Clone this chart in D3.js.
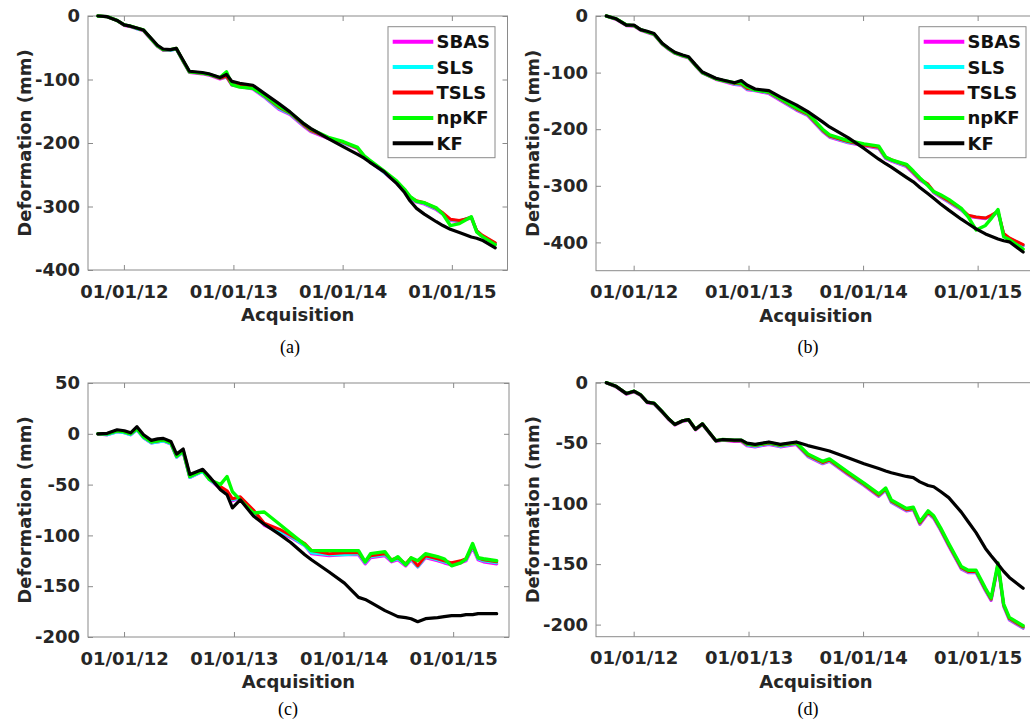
<!DOCTYPE html>
<html><head><meta charset="utf-8">
<script src="https://cdn.jsdelivr.net/npm/d3@7/dist/d3.min.js"></script>
<style>
html,body{margin:0;padding:0;background:#fff;}
svg{display:block;}
</style></head>
<body>
<svg id="chart" width="1030" height="723"></svg>
<script>
// ---------------- DATA ----------------
const dates = ["2011-10-06","2011-11-06","2011-12-09","2012-01-02","2012-01-23","2012-02-13","2012-03-06","2012-04-01","2012-04-22","2012-05-11","2012-06-05","2012-06-24","2012-07-16","2012-08-07","2012-09-19","2012-10-11","2012-11-17","2012-12-09","2012-12-27","2013-01-22","2013-03-07","2013-04-12","2013-06-02","2013-07-09","2013-08-25","2013-09-16","2013-11-14","2014-01-04","2014-02-20","2014-03-14","2014-04-01","2014-05-19","2014-06-10","2014-07-01","2014-07-27","2014-08-14","2014-09-05","2014-10-01","2014-11-10","2014-12-02","2014-12-27","2015-01-26","2015-02-13","2015-03-07","2015-03-25","2015-04-12","2015-05-26"];

const seriesNames = ["SBAS","SLS","TSLS","npKF","KF"];
const xTickDates = ["2012-01-01","2013-01-01","2014-01-01","2015-01-01"];
const xTickLabels = ["01/01/12","01/01/13","01/01/14","01/01/15"];
const panelLabels = ["(a)","(b)","(c)","(d)"];
const yTicksA = [0,-100,-200,-300,-400];
const yTicksB = [0,-100,-200,-300,-400];
const yTicksC = [50,0,-50,-100,-150,-200];
const yTicksD = [0,-50,-100,-150,-200];

// Panel (a)
const aSBAS = [0,-1,-7,-15,-17,-20,-23,-37,-48,-54,-54,-52,-71,-89,-91,-93,-99,-96,-109,-111,-115,-127,-147,-155,-174,-182,-193,-200,-209,-222,-229,-246,-255,-263,-276,-287,-293,-296,-305,-312,-322,-324,-321,-318,-339,-347,-359];
const aSLS  = [0,-1,-7,-14,-16,-20,-22,-36,-47,-53,-54,-52,-70,-88,-90,-92,-98,-96,-108,-111,-114,-126,-146,-154,-173,-181,-192,-200,-208,-221,-228,-246,-254,-262,-275,-286,-292,-295,-304,-311,-321,-323,-320,-317,-338,-346,-358];
const aTSLS = [0,-1,-7,-14,-16,-19,-22,-36,-47,-53,-53,-51,-70,-88,-90,-92,-98,-95,-108,-110,-113,-125,-144,-153,-172,-180,-192,-199,-208,-221,-228,-245,-253,-261,-274,-285,-291,-294,-303,-310,-320,-322,-320,-317,-338,-345,-357];
const aNpKF = [0,-1,-7,-14,-16,-19,-22,-36,-47,-53,-53,-51,-70,-88,-90,-92,-97,-88,-108,-112,-114,-124,-142,-152,-170,-178,-191,-198,-207,-220,-227,-244,-252,-260,-273,-284,-292,-294,-302,-312,-330,-327,-322,-316,-340,-347,-360];
const aKF   = [0,-1,-7,-14,-16,-19,-22,-35,-46,-52,-53,-51,-69,-87,-89,-91,-97,-92,-103,-106,-109,-121,-138,-151,-170,-177,-193,-206,-218,-224,-230,-245,-255,-264,-278,-291,-303,-312,-324,-330,-336,-341,-344,-348,-350,-353,-365];

// Panel (b)
const bSBAS = [0,-6,-17,-18,-25,-29,-33,-50,-59,-66,-71,-74,-88,-101,-112,-115,-121,-122,-130,-132,-137,-149,-166,-176,-204,-214,-224,-229,-234,-252,-256,-266,-278,-290,-299,-312,-320,-329,-343,-354,-356,-358,-354,-347,-386,-394,-406];
const bSLS  = [0,-5,-16,-17,-24,-28,-32,-49,-58,-65,-70,-73,-87,-100,-111,-114,-120,-121,-129,-131,-136,-148,-165,-175,-203,-213,-223,-228,-233,-251,-255,-265,-277,-289,-298,-311,-319,-328,-342,-353,-355,-357,-353,-346,-385,-393,-405];
const bTSLS = [0,-5,-16,-17,-24,-28,-32,-49,-58,-65,-70,-73,-87,-100,-111,-114,-119,-120,-128,-130,-135,-147,-164,-174,-202,-212,-222,-228,-232,-250,-254,-264,-276,-288,-297,-310,-318,-327,-341,-352,-355,-357,-352,-345,-384,-392,-404];
const bNpKF = [0,-5,-16,-17,-24,-28,-32,-49,-58,-65,-70,-73,-87,-100,-111,-114,-118,-118,-125,-131,-134,-146,-162,-172,-200,-210,-220,-226,-230,-249,-254,-262,-274,-286,-300,-310,-316,-324,-340,-355,-378,-370,-358,-342,-390,-395,-412];
const bKF   = [0,-5,-16,-16,-24,-27,-31,-48,-57,-64,-69,-72,-86,-99,-110,-113,-118,-114,-122,-129,-132,-143,-157,-169,-187,-196,-215,-234,-253,-261,-267,-285,-293,-303,-314,-322,-332,-343,-359,-367,-376,-385,-389,-394,-397,-399,-417];

// Panel (c)
const cSBAS = [0,-1,2,1,-1,4,-4,-9,-8,-7,-10,-23,-18,-43,-37,-45,-54,-58,-66,-63,-78,-90,-97,-102,-110,-118,-120,-119,-119,-128,-122,-120,-126,-124,-130,-124,-131,-122,-125,-127,-129,-127,-125,-112,-124,-126,-128];
const cSLS  = [0,-1,2,1,-1,4,-4,-9,-8,-7,-10,-23,-18,-43,-37,-45,-53,-57,-65,-63,-77,-89,-96,-101,-110,-117,-119,-119,-118,-127,-121,-119,-125,-123,-129,-123,-131,-121,-124,-126,-128,-126,-124,-111,-123,-125,-127];
const cTSLS = [0,0,3,2,0,5,-3,-8,-7,-6,-9,-22,-17,-42,-36,-44,-52,-56,-64,-62,-75,-88,-94,-100,-108,-115,-118,-117,-117,-126,-120,-118,-124,-122,-128,-122,-130,-120,-123,-125,-127,-125,-123,-110,-122,-124,-126];
const cNpKF = [0,0,3,2,0,5,-3,-8,-7,-6,-9,-22,-17,-42,-36,-45,-50,-42,-57,-65,-78,-77,-89,-98,-109,-115,-115,-115,-115,-126,-118,-116,-125,-121,-129,-122,-125,-118,-121,-123,-130,-127,-123,-108,-122,-123,-125];
const cKF   = [0,0.5,4,3,1,7,-1,-6.5,-5,-4.5,-7.5,-20,-15,-40,-35,-42,-55,-60,-73,-65,-81,-89,-99,-107,-119,-124,-136,-147,-161,-163,-166,-174,-177,-180,-181,-182,-185,-182,-181,-180,-179,-179,-178,-178,-177,-177,-177];

// Panel (d)
const dSBAS = [0,-3.5,-9.5,-7.5,-10.5,-16.5,-17.5,-24.5,-30.5,-35,-32,-31,-39,-34.5,-48.5,-47.5,-48.5,-48.5,-52,-53,-51,-53,-51,-61,-67,-65,-76,-85,-94,-89,-99,-106,-105,-117,-108,-112,-122,-135,-154,-157,-157,-172,-180,-151,-185,-196,-203];
const dSLS  = [0,-3,-9,-7,-10,-16,-17,-24,-30,-34.5,-31.5,-30.5,-38.5,-34,-48,-47,-48,-48,-51.5,-52.5,-50.5,-52.5,-50.5,-60.5,-66.5,-64.5,-75.5,-84.5,-93.5,-88.5,-98.5,-105.5,-104.5,-116.5,-107.5,-111.5,-121.5,-134.5,-153.5,-156.5,-156.5,-171.5,-179.5,-150.5,-184.5,-195.5,-202.5];
const dTSLS = [0,-3,-9,-7,-10,-16,-17,-24,-30,-34.5,-31.5,-30.5,-38.5,-34,-48,-47,-48,-48,-51,-52,-50,-52,-50,-60,-66,-64,-75,-84,-93,-88,-98,-105,-104,-116,-107,-111,-121,-134,-153,-156,-156,-171,-179,-150,-184,-195,-202];
const dNpKF = [0,-3,-9,-7,-10,-16,-17,-24,-30,-34.5,-31.5,-30.5,-38.5,-34,-48,-47,-47.5,-47.5,-50.5,-51.5,-49.5,-51.5,-49.5,-59,-65,-63,-74,-83,-92,-87,-97,-104,-103,-115,-106,-110,-120,-133,-152,-155,-155,-170,-178,-149,-183,-194,-201];
const dKF   = [0,-3,-9,-7,-10,-16,-17,-24,-30,-34.5,-31.5,-30.5,-38.5,-34,-48,-47,-47.5,-47.5,-50,-51,-49,-51,-49,-52,-55,-56.5,-62,-67,-71,-73,-74.5,-77.5,-78.5,-82,-85,-86,-90,-95,-107,-115,-124,-137,-143,-150,-156,-161,-170];

// ---------------- LAYOUT / STYLE ----------------
const colors = {SBAS:"#ff00ff", SLS:"#00ffff", TSLS:"#ff0000", npKF:"#00ff00", KF:"#000000"};
const widths = {SBAS:3.2, SLS:3.0, TSLS:3.0, npKF:3.4, KF:3.2};
const parse = d3.timeParse("%Y-%m-%d");
const xDomain = [parse("2011-09-03"), parse("2015-07-06")];
const FONT = "'DejaVu Sans', sans-serif";
const TXT = "#262626";
const AXC = "#8a8a8a";

const panels = [
  {label:panelLabels[0], left:88,  right:507.5, top:16,  bottom:270, yDomain:[-400,0], yTicks:yTicksA, legend:388,
   capX:290, capY:353, series:{SBAS:aSBAS,SLS:aSLS,TSLS:aTSLS,npKF:aNpKF,KF:aKF}},
  {label:panelLabels[1], left:596, right:1036, top:16,  bottom:270.7, yDomain:[-450,0], yTicks:yTicksB, legend:919,
   capX:808, capY:353, series:{SBAS:bSBAS,SLS:bSLS,TSLS:bTSLS,npKF:bNpKF,KF:bKF}},
  {label:panelLabels[2], left:88,  right:509, top:383, bottom:637, yDomain:[-200,50], yTicks:yTicksC, legend:null,
   capX:288, capY:715, series:{SBAS:cSBAS,SLS:cSLS,TSLS:cTSLS,npKF:cNpKF,KF:cKF}},
  {label:panelLabels[3], left:596, right:1036, top:382.7, bottom:636.7, yDomain:[-210,0], yTicks:yTicksD, legend:null,
   capX:808, capY:715, series:{SBAS:dSBAS,SLS:dSLS,TSLS:dTSLS,npKF:dNpKF,KF:dKF}}
];

const svg = d3.select("#chart");
const parsedDates = dates.map(parse);
const tickDates = xTickDates.map(parse);

panels.forEach(p => {
  const x = d3.scaleTime().domain(xDomain).range([p.left, p.right]);
  const y = d3.scaleLinear().domain(p.yDomain).range([p.bottom, p.top]);
  const g = svg.append("g");

  g.append("rect").attr("x", p.left).attr("y", p.top)
    .attr("width", p.right - p.left).attr("height", p.bottom - p.top)
    .attr("fill", "#fff").attr("stroke", AXC).attr("stroke-width", 1);

  const styleAxis = sel => {
    sel.select(".domain").remove();
    sel.selectAll(".tick line").attr("stroke", AXC);
    sel.selectAll(".tick text").attr("fill", TXT).attr("font-family", FONT)
      .attr("font-weight", "bold").attr("font-size", 18);
  };

  g.append("g").attr("transform", `translate(0,${p.bottom})`)
    .call(d3.axisBottom(x).tickValues(tickDates).tickFormat((d,i)=>xTickLabels[i])
      .tickSizeInner(-5).tickSizeOuter(0).tickPadding(15))
    .call(styleAxis);
  g.append("g").attr("transform", `translate(0,${p.top})`)
    .call(d3.axisTop(x).tickValues(tickDates).tickFormat("").tickSizeInner(-5).tickSizeOuter(0))
    .call(styleAxis);
  g.append("g").attr("transform", `translate(${p.left},0)`)
    .call(d3.axisLeft(y).tickValues(p.yTicks).tickFormat(d => String(d))
      .tickSizeInner(-5).tickSizeOuter(0).tickPadding(8))
    .call(styleAxis);
  g.append("g").attr("transform", `translate(${p.right},0)`)
    .call(d3.axisRight(y).tickValues(p.yTicks).tickFormat("").tickSizeInner(-5).tickSizeOuter(0))
    .call(styleAxis);

  const line = d3.line().x((d,i)=>x(parsedDates[i])).y(d=>y(d));
  seriesNames.forEach(name => {
    g.append("path").datum(p.series[name])
      .attr("d", line).attr("fill", "none")
      .attr("stroke", colors[name]).attr("stroke-width", widths[name])
      .attr("stroke-linejoin", "round").attr("stroke-linecap", "round");
  });

  const cx = (p.left + p.right) / 2;
  g.append("text").attr("x", cx).attr("y", p.bottom + 51)
    .attr("text-anchor", "middle").attr("font-family", FONT).attr("font-weight", "bold")
    .attr("font-size", 18).attr("fill", TXT).text("Acquisition");
  const cy = (p.top + p.bottom) / 2;
  const yl = p.left - 57.5;
  g.append("text").attr("transform", `translate(${yl},${cy}) rotate(-90)`)
    .attr("text-anchor", "middle").attr("font-family", FONT).attr("font-weight", "bold")
    .attr("font-size", 18).attr("fill", TXT).text("Deformation (mm)");

  g.append("text").attr("x", p.capX).attr("y", p.capY)
    .attr("text-anchor", "middle").attr("font-family", "'Liberation Serif', 'Times New Roman', serif")
    .attr("font-size", 18).attr("fill", "#000").text(p.label);

  if (p.legend !== null) {
    const lx = p.legend, ly = 26.7;
    const lg = g.append("g");
    lg.append("rect").attr("x", lx).attr("y", ly).attr("width", 107).attr("height", 131)
      .attr("fill", "#fff").attr("stroke", "#8a8a8a").attr("stroke-width", 1);
    seriesNames.forEach((name, i) => {
      const ry = 41.7 + i * 25.4;
      lg.append("line").attr("x1", lx + 4.7).attr("x2", lx + 45.3)
        .attr("y1", ry).attr("y2", ry)
        .attr("stroke", colors[name]).attr("stroke-width", 4);
      lg.append("text").attr("x", lx + 48.5).attr("y", ry).attr("dy", "0.36em")
        .attr("font-family", FONT).attr("font-weight", "bold").attr("font-size", 18)
        .attr("fill", "#111").text(name);
    });
  }
});
</script>
</body></html>
